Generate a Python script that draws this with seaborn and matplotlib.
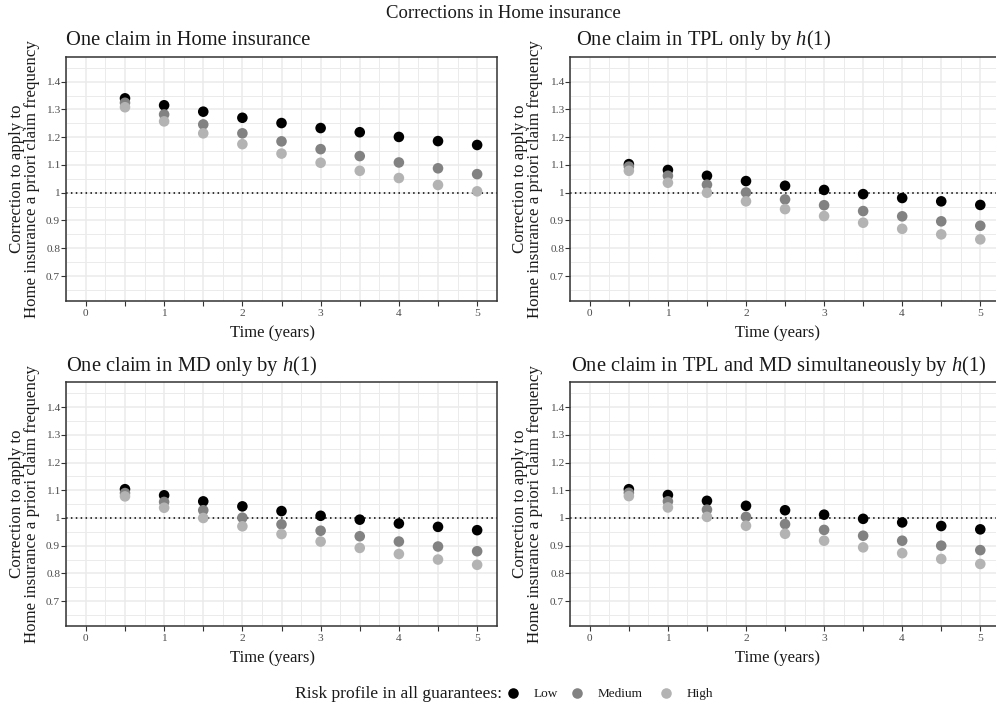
import numpy as np
import pandas as pd
import matplotlib
matplotlib.use("Agg")
import matplotlib.pyplot as plt
from matplotlib.ticker import MultipleLocator, FuncFormatter
from matplotlib.lines import Line2D
import seaborn as sns

# ---- data -------------------------------------------------------------
times = [0.5, 1.0, 1.5, 2.0, 2.5, 3.0, 3.5, 4.0, 4.5, 5.0]
profiles = ["Low", "Medium", "High"]

home_low = [1.340, 1.315, 1.292, 1.270, 1.251, 1.233, 1.218, 1.201, 1.186, 1.172]
home_med = [1.324, 1.282, 1.246, 1.214, 1.185, 1.157, 1.132, 1.109, 1.088, 1.067]
home_high = [1.308, 1.257, 1.214, 1.175, 1.141, 1.108, 1.079, 1.053, 1.028, 1.005]

tpl_low = [1.103, 1.082, 1.061, 1.042, 1.025, 1.010, 0.995, 0.981, 0.969, 0.956]
tpl_med = [1.094, 1.061, 1.029, 1.001, 0.976, 0.955, 0.934, 0.915, 0.897, 0.881]
tpl_high = [1.079, 1.036, 1.000, 0.969, 0.941, 0.916, 0.892, 0.870, 0.850, 0.832]

md_low = [1.104, 1.082, 1.060, 1.042, 1.025, 1.008, 0.994, 0.980, 0.968, 0.956]
md_med = [1.090, 1.058, 1.028, 1.001, 0.977, 0.954, 0.934, 0.915, 0.897, 0.880]
md_high = [1.078, 1.037, 1.000, 0.970, 0.942, 0.915, 0.892, 0.870, 0.850, 0.831]

both_low = [1.104, 1.083, 1.062, 1.044, 1.028, 1.012, 0.997, 0.984, 0.971, 0.959]
both_med = [1.091, 1.060, 1.030, 1.004, 0.978, 0.957, 0.936, 0.918, 0.900, 0.884]
both_high = [1.079, 1.038, 1.004, 0.972, 0.943, 0.918, 0.894, 0.873, 0.852, 0.834]

panel_titles = [
    "One claim in Home insurance",
    "One claim in TPL only by $h$(1)",
    "One claim in MD only by $h$(1)",
    "One claim in TPL and MD simultaneously by $h$(1)",
]
panel_series = [
    (home_low, home_med, home_high),
    (tpl_low, tpl_med, tpl_high),
    (md_low, md_med, md_high),
    (both_low, both_med, both_high),
]
palette = {"Low": "#000000", "Medium": "#828282", "High": "#B3B3B3"}

# ---- style ------------------------------------------------------------
sns.set_style("white")
FONT = "Liberation Serif"
plt.rcParams["font.family"] = [FONT, "DejaVu Serif"]
plt.rcParams["mathtext.fontset"] = "custom"
plt.rcParams["mathtext.rm"] = FONT
plt.rcParams["mathtext.it"] = FONT + ":italic"

W, H = 996, 704
fig = plt.figure(figsize=(W / 100, H / 100), dpi=100)


def fx(x):
    return x / W


def fy(y):
    return 1 - y / H


# panel rectangles in pixels: left, top, right, bottom
rects = [
    (66.3, 56.7, 496.7, 301.0),
    (570.3, 56.7, 999.8, 301.0),
    (66.3, 382.3, 496.7, 626.0),
    (570.3, 382.3, 999.8, 626.0),
]
title_x = [66.3, 576.0, 66.3, 571.0]
xlab_x = [272.0, 777.0, 272.0, 777.0]
ylab_x = [24.5, 527.5, 24.5, 527.5]

GRID = "#EBEBEB"
FRAME = "#333333"
TEXT = "#1A1A1A"

for i, (l, t, r, b) in enumerate(rects):
    ax = fig.add_axes([fx(l), fy(b), (r - l) / W, (b - t) / H])
    low, med, high = panel_series[i]
    df = pd.DataFrame({
        "time": times * 3,
        "value": low + med + high,
        "profile": ["Low"] * len(times) + ["Medium"] * len(times) + ["High"] * len(times),
    })
    sns.scatterplot(data=df, x="time", y="value", hue="profile",
                    hue_order=profiles, palette=palette, s=58,
                    linewidth=0, legend=False, ax=ax, zorder=3)
    ax.axhline(1.0, color="black", linestyle=(0, (1, 2.2)), linewidth=1.1, zorder=2)

    ax.set_xlim(-0.25, 5.25)
    ax.set_ylim(0.61, 1.49)
    ax.xaxis.set_major_locator(MultipleLocator(0.5))
    ax.xaxis.set_minor_locator(MultipleLocator(0.25))
    ax.xaxis.set_major_formatter(FuncFormatter(lambda v, p: f"{v:g}" if abs(v - round(v)) < 1e-9 else ""))
    ax.set_yticks([0.7, 0.8, 0.9, 1.0, 1.1, 1.2, 1.3, 1.4])
    ax.yaxis.set_minor_locator(MultipleLocator(0.05))
    ax.yaxis.set_major_formatter(FuncFormatter(lambda v, p: f"{v:g}"))

    ax.grid(which="major", color=GRID, linewidth=1.1, zorder=0)
    ax.grid(which="minor", color=GRID, linewidth=0.7, zorder=0)
    ax.set_axisbelow(True)
    ax.tick_params(which="major", length=3.4, width=0.8, color=FRAME,
                   labelsize=8.2, labelcolor="#4D4D4D",
                   bottom=True, left=True)
    ax.tick_params(axis="y", which="major", pad=1.0)
    ax.tick_params(axis="x", which="major", pad=2.5)
    ax.tick_params(which="minor", length=0)
    for sp in ax.spines.values():
        sp.set_color(FRAME)
        sp.set_linewidth(1.1)
    ax.set_xlabel("")
    ax.set_ylabel("")

    fig.text(fx(title_x[i]), fy(t - 11.7), panel_titles[i], ha="left",
             va="baseline", fontsize=14.8, color=TEXT)
    fig.text(fx(xlab_x[i]), fy(b + 35.7), "Time (years)", ha="center",
             va="baseline", fontsize=12, color=TEXT)
    fig.text(fx(ylab_x[i]), fy((t + b) / 2),
             "Correction to apply to\nHome insurance a priori claim frequency",
             ha="center", va="center", rotation=90, fontsize=12.2,
             linespacing=0.92, color=TEXT)

fig.text(fx(503), fy(18.3), "Corrections in Home insurance", ha="center",
         va="baseline", fontsize=13.5, color=TEXT)

# legend along the bottom: title, then one entry per risk profile
fig.text(fx(295), fy(698), "Risk profile in all guarantees:", ha="left",
         va="baseline", fontsize=12.6, color=TEXT)
LEG_FS = 9.5
handle_px = LEG_FS * 100 / 72  # handle length of 1 em, in pixels
entry_centers = [512.7, 577.3, 666.0]
for p, cx in zip(profiles, entry_centers):
    h = Line2D([], [], marker="o", linestyle="", markersize=7.6,
               markerfacecolor=palette[p], markeredgewidth=0, label=p)
    fig.legend(handles=[h], loc="center left",
               bbox_to_anchor=(fx(cx - handle_px / 2), fy(694.3)),
               frameon=False, fontsize=LEG_FS, handlelength=1.0,
               handletextpad=1.05, borderpad=0, borderaxespad=0,
               labelcolor=TEXT)

fig.savefig("out.png", dpi=100)
